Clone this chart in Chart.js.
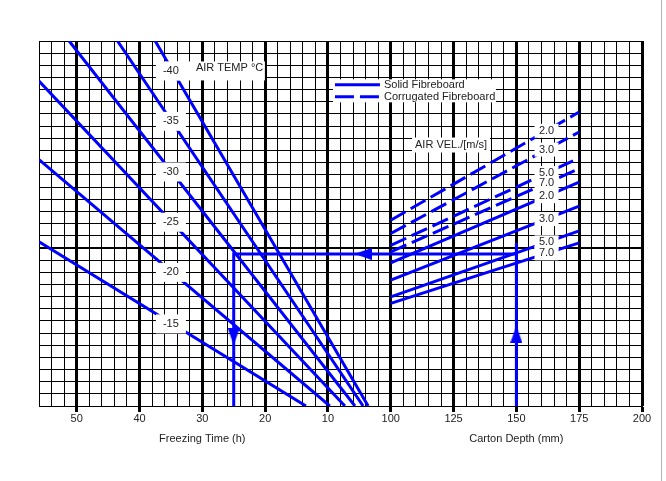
<!DOCTYPE html>
<html>
<head>
<meta charset="utf-8">
<script src="https://cdn.jsdelivr.net/npm/chart.js@4.4.1/dist/chart.umd.min.js"></script>
<style>
  html, body { margin: 0; padding: 0; background: #fff; }
  #wrap { position: relative; width: 666px; height: 481px; }
  #frame { position: absolute; left: 661px; top: 0; width: 1px; height: 481px; background: #b4b4b4; }
</style>
</head>
<body>
<div id="wrap">
  <canvas id="chart" width="666" height="481"></canvas>
  <div id="frame"></div>
</div>
<script>
// --- freezing time side: one straight line per air temperature (time in h, y in grid rows)
const airTemps = ['-40', '-35', '-30', '-25', '-20', '-15'];
const tempStartTime = [37.5, 43.5, 51.2, 56, 56, 56];
const tempStartY = [30, 30, 30, 26.7, 20.25, 13.5];
const tempEndTime = [3.6, 4.4, 5.7, 7.3, 9.7, 13.5];
const tempEndY = [0, 0, 0, 0, 0, 0];

// --- carton depth side: one line per air velocity, from 100 to 175 mm
const airVels = ['2.0', '3.0', '5.0', '7.0'];
const depthStart = 100;
const depthEnd = 175;
const corrugatedStartY = [15.27, 14.18, 13.2, 12.67];
const corrugatedEndY = [24.16, 22.52, 20.39, 19.5];
const solidStartY = [11.77, 10.34, 8.97, 8.43];
const solidEndY = [18.4, 16.42, 14.39, 13.41];

// --- worked example: 150 mm carton, solid 5.0 m/s -> -30 line -> 25 h
const exampleDepth = 150;
const exampleTime = 25;
const exampleY = 12.5;
const exampleTopY = 13.4;

// --- tick labels
const timeTicks = [50, 40, 30, 20, 10];
const depthTicks = [100, 125, 150, 175, 200];

const blue = '#0000ff';
const ink = '#222222';
const FONT = "'Liberation Sans', Arial, sans-serif";

// the grid axis runs in mm; the time side shares the same pixels (10 h == 25 mm)
const DEPTH_MIN = -40, DEPTH_MAX = 200;
const TIME_LEFT = 56, TIME_RIGHT = -40;
const mmPerHour = (DEPTH_MAX - DEPTH_MIN) / (TIME_LEFT - TIME_RIGHT);
const timeToDepth = t => DEPTH_MIN + (TIME_LEFT - t) * mmPerHour;
const depthToTime = d => TIME_LEFT - (d - DEPTH_MIN) / mmPerHour;
const majorValues = timeTicks.map(timeToDepth).concat(depthTicks);
const isMajor = v => majorValues.some(m => Math.abs(m - v) < 1e-6);

function tickLabel(value) {
  if (depthTicks.includes(value)) return String(value);
  const t = depthToTime(value);
  if (timeTicks.some(x => Math.abs(x - t) < 1e-6)) return String(Math.round(t));
  return '';
}

// arrow head used as a point style (points up, rotated per point)
function makeArrow() {
  const c = document.createElement('canvas');
  c.width = 12; c.height = 17;
  const g = c.getContext('2d');
  g.fillStyle = blue;
  g.beginPath();
  g.moveTo(6, 0); g.lineTo(12, 17); g.lineTo(0, 17); g.closePath();
  g.fill();
  return c;
}
const arrow = makeArrow();

const datasets = [];
airTemps.forEach((lbl, i) => datasets.push({
  label: 'Air ' + lbl, xAxisID: 'xt', showLine: true,
  data: [{x: tempStartTime[i], y: tempStartY[i]}, {x: tempEndTime[i], y: tempEndY[i]}],
  borderColor: blue, borderWidth: 3, pointRadius: 0
}));
airVels.forEach((lbl, i) => datasets.push({
  label: 'Corrugated ' + lbl, xAxisID: 'xd', showLine: true,
  data: [{x: depthStart, y: corrugatedStartY[i]}, {x: depthEnd, y: corrugatedEndY[i]}],
  borderColor: blue, borderWidth: 3, borderDash: [17, 6], pointRadius: 0
}));
airVels.forEach((lbl, i) => datasets.push({
  label: 'Solid ' + lbl, xAxisID: 'xd', showLine: true,
  data: [{x: depthStart, y: solidStartY[i]}, {x: depthEnd, y: solidEndY[i]}],
  borderColor: blue, borderWidth: 3, pointRadius: 0
}));
// example path
datasets.push({
  label: 'example time', xAxisID: 'xt', showLine: true,
  data: [{x: exampleTime, y: 0}, {x: exampleTime, y: exampleY}, {x: 0, y: exampleY}],
  borderColor: blue, borderWidth: 3, pointRadius: 0
});
datasets.push({
  label: 'example depth', xAxisID: 'xd', showLine: true,
  data: [{x: depthStart, y: exampleY}, {x: exampleDepth, y: exampleY}],
  borderColor: blue, borderWidth: 3, pointRadius: 0
});
datasets.push({
  label: 'example up', xAxisID: 'xd', showLine: true,
  data: [{x: exampleDepth, y: 0}, {x: exampleDepth, y: exampleTopY}],
  borderColor: blue, borderWidth: 3, pointRadius: 0
});
// arrow heads
datasets.push({
  label: 'arrows time', xAxisID: 'xt', showLine: false,
  data: [{x: exampleTime, y: 5.7}, {x: 4.4, y: exampleY}],
  pointStyle: arrow, pointRotation: [180, -90], pointRadius: 5
});
datasets.push({
  label: 'arrows depth', xAxisID: 'xd', showLine: false,
  data: [{x: exampleDepth, y: 5.9}],
  pointStyle: arrow, pointRotation: 0, pointRadius: 5
});

function box(ctx, text, cx, cy, w, h) {
  ctx.fillStyle = '#fff';
  ctx.fillRect(cx - w / 2, cy - h / 2, w, h);
  if (text) {
    ctx.fillStyle = ink;
    ctx.textAlign = 'center';
    ctx.textBaseline = 'middle';
    ctx.fillText(text, cx, cy);
  }
}

const annotations = {
  id: 'annotations',
  afterDatasetsDraw(chart) {
    const {ctx, chartArea} = chart;
    const {xt, xd, y} = chart.scales;
    ctx.save();
    ctx.font = '11px ' + FONT;

    // air temperature labels sit on their lines at 35 h
    const labelTime = 35;
    airTemps.forEach((lbl, i) => {
      const f = (labelTime - tempStartTime[i]) / (tempEndTime[i] - tempStartTime[i]);
      const v = tempStartY[i] + f * (tempEndY[i] - tempStartY[i]);
      const cx = xt.getPixelForValue(labelTime);
      const cy = y.getPixelForValue(v) + (i === 0 ? 3 : 1);
      if (i === 0) {
        box(ctx, '', cx + 46, cy, 96, 19);
        ctx.fillStyle = ink;
        ctx.textAlign = 'left';
        ctx.fillText('AIR TEMP \u00b0C', cx + 25, cy);
      }
      box(ctx, lbl, cx, cy, 30, 19);
    });

    // air velocity labels sit on their lines at 162 mm
    const labelDepth = 162;
    const f = (labelDepth - depthStart) / (depthEnd - depthStart);
    airVels.forEach((lbl, i) => {
      const cx = xd.getPixelForValue(labelDepth);
      const v1 = corrugatedStartY[i] + f * (corrugatedEndY[i] - corrugatedStartY[i]);
      box(ctx, lbl, cx, y.getPixelForValue(v1), 24, 14);
      const v2 = solidStartY[i] + f * (solidEndY[i] - solidStartY[i]);
      box(ctx, lbl, cx, y.getPixelForValue(v2), 24, 14);
    });

    box(ctx, 'AIR VEL./[m/s]', xd.getPixelForValue(124), y.getPixelForValue(21.45), 78, 15);

    // legend
    const lx = xd.getPixelForValue(77), ly = y.getPixelForValue(26.85);
    ctx.fillStyle = '#fff';
    ctx.fillRect(lx, ly, 163, 23);
    ctx.strokeStyle = blue;
    ctx.lineWidth = 3;
    ctx.beginPath(); ctx.moveTo(lx + 2, ly + 5.5); ctx.lineTo(lx + 47, ly + 5.5); ctx.stroke();
    ctx.setLineDash([19, 6]);
    ctx.beginPath(); ctx.moveTo(lx + 2, ly + 17.5); ctx.lineTo(lx + 47, ly + 17.5); ctx.stroke();
    ctx.setLineDash([]);
    ctx.fillStyle = ink;
    ctx.textAlign = 'left';
    ctx.textBaseline = 'middle';
    ctx.fillText('Solid Fibreboard', lx + 51, ly + 5.5);
    ctx.fillText('Corrugated Fibreboard', lx + 51, ly + 17.5);

    // axis titles
    ctx.textAlign = 'center';
    ctx.fillText('Freezing Time (h)', xt.getPixelForValue(30), chartArea.bottom + 33);
    ctx.fillText('Carton Depth (mm)', xd.getPixelForValue(150), chartArea.bottom + 33);
    ctx.restore();
  }
};

new Chart(document.getElementById('chart'), {
  type: 'scatter',
  data: {datasets},
  plugins: [annotations],
  options: {
    responsive: false,
    animation: false,
    devicePixelRatio: 1,
    layout: {padding: {left: 39, top: 41, right: 24, bottom: 49}},
    plugins: {legend: {display: false}, tooltip: {enabled: false}},
    scales: {
      xd: {
        type: 'linear', position: 'bottom', min: DEPTH_MIN, max: DEPTH_MAX,
        afterBuildTicks: scale => {
          const ticks = [];
          for (let v = DEPTH_MIN; v <= DEPTH_MAX; v += 5) ticks.push({value: v});
          scale.ticks = ticks;
        },
        afterFit: scale => { scale.height = 26; },
        ticks: {
          autoSkip: false, maxRotation: 0, padding: 0, color: ink,
          font: {family: FONT, size: 11},
          callback: v => tickLabel(v)
        },
        grid: {
          color: '#000',
          lineWidth: c => isMajor(c.tick.value) ? 3 : 1,
          tickLength: 6,
          tickColor: c => isMajor(c.tick.value) ? '#000' : 'rgba(0,0,0,0)',
          tickWidth: c => isMajor(c.tick.value) ? 3 : 1
        },
        border: {display: true, color: '#000', width: 1}
      },
      xt: {
        type: 'linear', display: false, reverse: true, min: TIME_RIGHT, max: TIME_LEFT
      },
      y: {
        type: 'linear', min: 0, max: 30,
        afterFit: scale => { scale.width = 0; },
        ticks: {display: false, stepSize: 1},
        grid: {
          color: '#000', drawTicks: false,
          lineWidth: c => c.tick.value === 13 ? 2 : 1
        },
        border: {display: true, color: '#000', width: 1}
      }
    }
  }
});
</script>
</body>
</html>
